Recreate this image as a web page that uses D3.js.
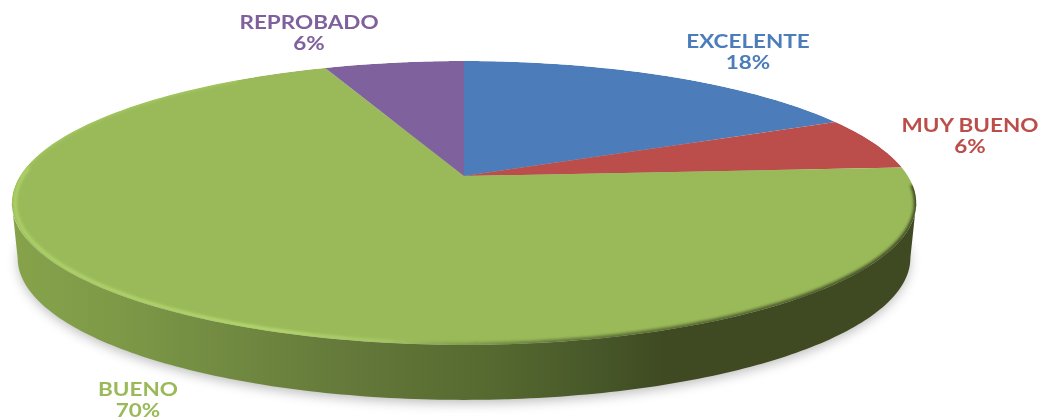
<!DOCTYPE html>
<html>
<head>
<meta charset="utf-8">
<script src="https://cdn.jsdelivr.net/npm/d3@7"></script>
<style>
html, body { margin: 0; padding: 0; background: #fff; }
svg { display: block; }
text { font-family: Lato, "Open Sans", sans-serif; font-weight: 700; font-size: 18px; text-anchor: middle; }
</style>
</head>
<body>
<svg width="1043" height="420"></svg>
<script>
const svg = d3.select("svg");

const categories = ["EXCELENTE", "MUY BUENO", "BUENO", "REPROBADO"];
const percents = [18, 6, 70, 6];
const colors = ["#4c7dba", "#bb4e4b", "#9aba5a", "#7f619d"];
const labelSpots = [[748, 42], [970, 126], [138, 390], [309, 23]];

// perspective of the tilted disc
const cx = 464, cy = 176, depth = 55;
const scaleU = d3.scaleLinear().domain([-1, 1]).range([-444, 444]);
const scaleV = d3.scaleLinear().domain([-1, 1]).range([-136.8, 136.8]);
const tilt = 0.19;

function project(a, r = 1) {
    const u = r * Math.sin(a), v = -r * Math.cos(a);
    const w = 1 - tilt * v;
    return [cx + scaleU(u) / w, cy + scaleV(v) / w];
}

const line = d3.line();
function rim(a0, a1, dy = 0, r = 1, shrink = 1) {
    return d3.range(0, 181).map(i => {
        const p = project(a0 + (a1 - a0) * i / 180, r);
        return [cx + (p[0] - cx) * shrink, p[1] + dy];
    });
}

const slices = d3.pie().sort(null).value(d => d)(percents);
const defs = svg.append("defs");

const blur = (id, s) => defs.append("filter").attr("id", id)
    .attr("filterUnits", "userSpaceOnUse")
    .attr("x", 0).attr("y", 0).attr("width", 1043).attr("height", 420)
    .append("feGaussianBlur").attr("stdDeviation", s);
blur("shadow", 6);
blur("bevel", 1.6);
blur("soft", 0.5);

function gradient(id, stops) {
    const g = defs.append("linearGradient").attr("id", id)
        .attr("gradientUnits", "userSpaceOnUse")
        .attr("x1", 12).attr("x2", 916).attr("y1", 0).attr("y2", 0);
    stops.forEach(s => g.append("stop")
        .attr("offset", s[0]).attr("stop-color", s[1]).attr("stop-opacity", s[2]));
}
gradient("side", [[0, "#86a34b", 1], [0.12, "#7d9947", 1], [0.37, "#64793a", 1], [0.54, "#55682f", 1], [0.65, "#475729", 1], [0.72, "#3f4a22", 1], [1, "#3f4a22", 1]]);
gradient("shine", [[0, "#b0d568", 1], [0.3, "#b9dd72", 1], [0.4, "#b0d46a", 0.7], [0.48, "#a8cb64", 0]]);
gradient("shade", [[0.42, "#4c5e2a", 0], [0.6, "#4c5e2a", 0.75], [1, "#3f4a22", 1]]);

// drop shadow
svg.append("path")
    .attr("d", line(rim(0, 2 * Math.PI, depth + 3, 1, 0.985)) + "Z")
    .attr("fill", "#8c8c8c")
    .attr("opacity", 0.6)
    .attr("filter", "url(#shadow)");

// side wall, the lower edge sits a little inside the rim
const rightA = Math.PI / 2 + 0.19, leftA = 3 * Math.PI / 2 - 0.19;
const upperEdge = rim(rightA, leftA), lowerEdge = rim(leftA, rightA, depth, 1, 0.987);
svg.append("path")
    .attr("d", line(upperEdge.concat(lowerEdge)) + "Z")
    .attr("fill", "url(#side)");

// top face
defs.append("clipPath").attr("id", "face").append("path").attr("d", line(rim(0, 2 * Math.PI)) + "Z");
const face = svg.append("g").attr("clip-path", "url(#face)");

face.selectAll("path.slice")
    .data(slices)
    .enter().append("path")
    .attr("class", "slice")
    .attr("fill", (d, i) => colors[i])
    .attr("d", d => line([project(0, 0)].concat(rim(d.startAngle, d.endAngle))) + "Z");

// bevel: bright line on the front left, dark edge on the front right
face.append("path")
    .attr("d", line(rim(Math.PI * 0.98, Math.PI * 1.52, 0, 0.993)))
    .attr("fill", "none")
    .attr("stroke", "url(#shine)")
    .attr("stroke-width", 3)
    .attr("filter", "url(#bevel)");
face.append("path")
    .attr("d", line(rim(Math.PI * 1.5, Math.PI * 1.8)))
    .attr("fill", "none")
    .attr("stroke", "#aed364")
    .attr("stroke-opacity", 0.6)
    .attr("stroke-width", 3)
    .attr("filter", "url(#bevel)");
face.append("path")
    .attr("d", line(rim(Math.PI * 0.52, Math.PI * 1.05)))
    .attr("fill", "none")
    .attr("stroke", "url(#shade)")
    .attr("stroke-width", 5)
    .attr("filter", "url(#bevel)");

// labels, stretched sideways like the original
const labels = svg.append("g").attr("filter", "url(#soft)");
categories.forEach((c, i) => {
    const g = labels.append("g")
        .attr("transform", `translate(${labelSpots[i][0]},${labelSpots[i][1] + 6}) scale(1.25,1)`)
        .attr("fill", colors[i]);
    g.append("text").text(c);
    g.append("text").attr("y", 21).text(percents[i] + "%");
});
</script>
</body>
</html>
